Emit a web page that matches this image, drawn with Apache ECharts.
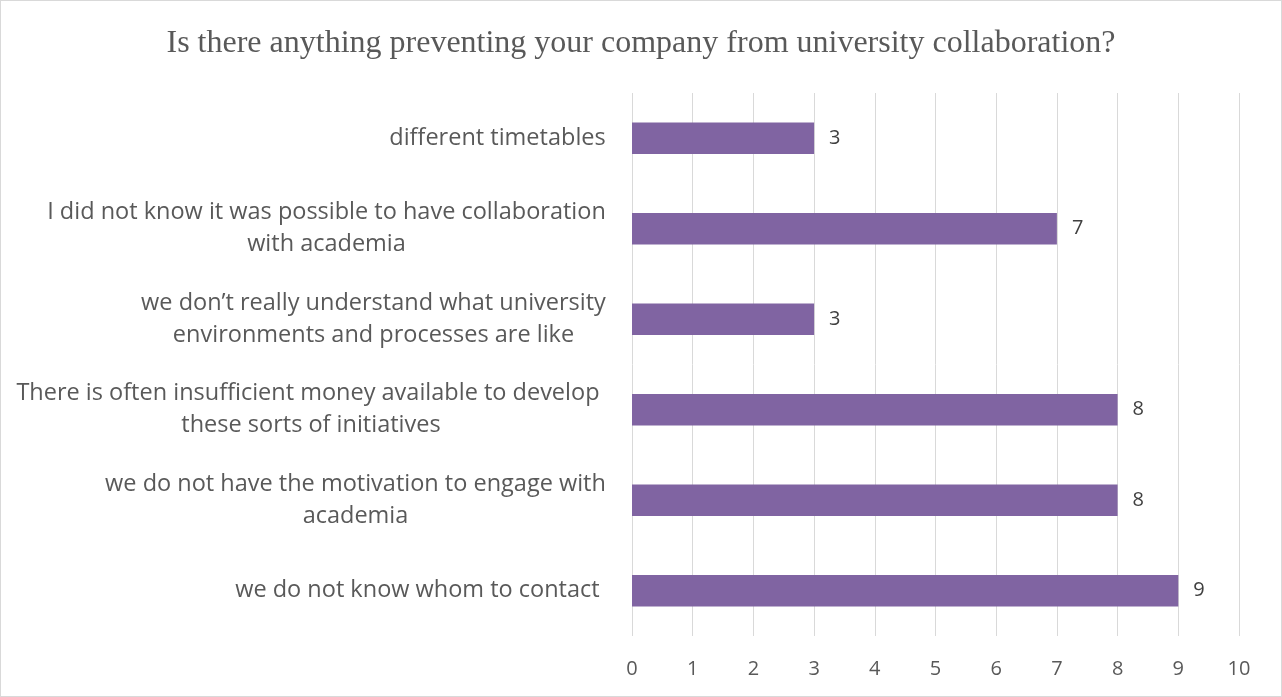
<!DOCTYPE html>
<html>
<head>
<meta charset="utf-8">
<script src="https://cdn.jsdelivr.net/npm/echarts@6/dist/echarts.min.js"></script>
<style>
  html, body { margin: 0; padding: 0; background: #fff; }
  #chart { width: 1282px; height: 697px; box-sizing: border-box; border: 1px solid #d9d9d9; }
</style>
</head>
<body>
<div id="chart"></div>
<script>
// Survey answers, top to bottom
const categories = [
  'different timetables',
  'I did not know it was possible to have collaboration\nwith academia',
  'we don\u2019t really understand what university\nenvironments and processes are like',
  'There is often insufficient money available to develop \nthese sorts of initiatives',
  'we do not have the motivation to engage with\nacademia',
  'we do not know whom to contact '
];
const counts = [3, 7, 3, 8, 8, 9];
const xTicks = [0, 1, 2, 3, 4, 5, 6, 7, 8, 9, 10];

const LABEL_SIZE = 23.5;
const ctx = document.createElement('canvas').getContext('2d');
ctx.font = LABEL_SIZE + 'px "Open Sans"';

// Each category label: lines centred inside a block as wide as its longest line
const rich = {};
categories.forEach((c, i) => {
  const w = Math.max(...c.split('\n').map(s => ctx.measureText(s).width));
  rich['c' + i] = { width: Math.ceil(w), align: 'center', fontSize: LABEL_SIZE, lineHeight: 32,
                    fontFamily: 'Open Sans', color: '#595959' };
});

const chart = echarts.init(document.getElementById('chart'));
chart.setOption({
  animation: false,
  title: {
    text: 'Is there anything preventing your company from university collaboration?',
    left: 'center', top: 22,
    textStyle: { fontFamily: 'Liberation Serif', fontWeight: 'normal', fontSize: 32, color: '#595959' }
  },
  grid: { left: 631, right: 42, top: 92, bottom: 60, containLabel: false },
  xAxis: {
    type: 'value', min: 0, max: 10, interval: 1,
    axisLine: { show: false }, axisTick: { show: false },
    splitLine: { lineStyle: { color: '#d9d9d9', width: 1 } },
    axisLabel: { color: '#595959', fontSize: 20, fontFamily: 'Open Sans', margin: 23,
                 formatter: v => xTicks.includes(v) ? String(v) : '' }
  },
  yAxis: {
    type: 'category', inverse: true, data: categories,
    axisLine: { show: false }, axisTick: { show: false },
    axisLabel: {
      margin: 26, align: 'right',
      formatter: (v, i) => v.split('\n').map(s => '{c' + i + '|' + s + '}').join('\n'),
      rich: rich
    }
  },
  series: [{
    type: 'bar', data: counts, barCategoryGap: '65%',
    itemStyle: { color: '#8064A2' },
    label: { show: true, position: 'right', distance: 15, color: '#404040',
             fontSize: 20, fontFamily: 'Open Sans' }
  }]
});
</script>
</body>
</html>
